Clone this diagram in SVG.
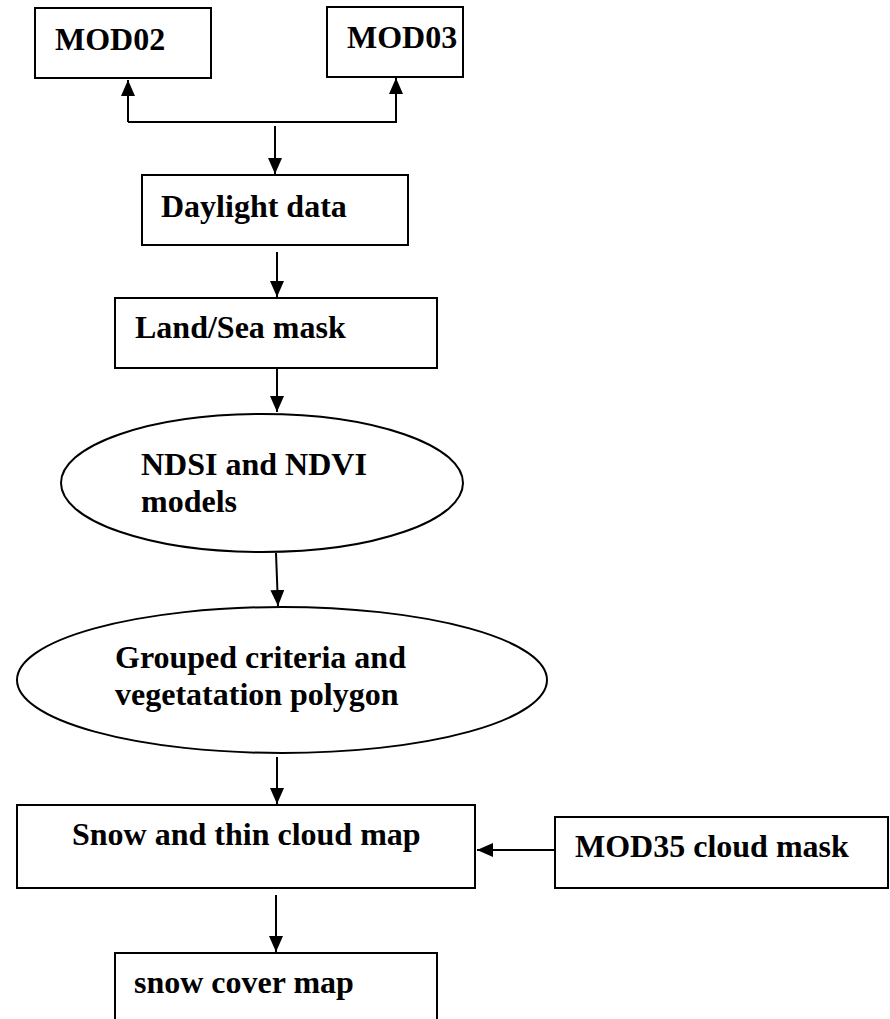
<svg xmlns="http://www.w3.org/2000/svg" width="890" height="1019" viewBox="0 0 890 1019">
<style>
.box{fill:#fff;stroke:#000;stroke-width:2}
.t{font-family:"Liberation Serif","Times New Roman",serif;font-weight:bold;font-size:32px;fill:#000}
.c{fill:none;stroke:#000;stroke-width:2}
</style>
<defs>
<marker id="ah" viewBox="0 0 16 14" refX="16" refY="7" markerWidth="16" markerHeight="14" markerUnits="userSpaceOnUse" orient="auto">
<path d="M0,0 L16,7 L0,14 Z" fill="#000"/>
</marker>
</defs>
<rect width="890" height="1019" fill="#fff"/>
<g id="connectors">
<path class="c" d="M128,122 V80" marker-end="url(#ah)"/>
<path class="c" d="M128,122 H396 V78" marker-end="url(#ah)"/>
<path class="c" d="M275,126 V174" marker-end="url(#ah)"/>
<path class="c" d="M277,252 V297" marker-end="url(#ah)"/>
<path class="c" d="M277,369 V412" marker-end="url(#ah)"/>
<path class="c" d="M276,553 L278,606" marker-end="url(#ah)"/>
<path class="c" d="M277,757 V804" marker-end="url(#ah)"/>
<path class="c" d="M555,850 H477" marker-end="url(#ah)"/>
<path class="c" d="M276,895 V952" marker-end="url(#ah)"/>
</g>
<g id="mod02">
<rect class="box" x="35" y="8" width="176" height="70"/>
<text class="t" x="55" y="50">MOD02</text>
</g>
<g id="mod03">
<rect class="box" x="327" y="7" width="136" height="70"/>
<text class="t" x="347" y="48">MOD03</text>
</g>
<g id="daylight">
<rect class="box" x="142" y="175" width="266" height="70"/>
<text class="t" x="161" y="217">Daylight data</text>
</g>
<g id="landsea">
<rect class="box" x="115" y="298" width="322" height="70"/>
<text class="t" x="135" y="338">Land/Sea mask</text>
</g>
<g id="ndsi">
<ellipse class="box" cx="262" cy="483" rx="201" ry="69"/>
<text class="t" x="141" y="475">NDSI and NDVI</text>
<text class="t" x="141" y="512">models</text>
</g>
<g id="grouped">
<ellipse class="box" cx="282" cy="680" rx="265" ry="73"/>
<text class="t" x="115" y="668">Grouped criteria and</text>
<text class="t" x="115" y="705">vegetatation polygon</text>
</g>
<g id="snowthin">
<rect class="box" x="17" y="805" width="458" height="83"/>
<text class="t" x="72" y="845">Snow and thin cloud map</text>
</g>
<g id="mod35">
<rect class="box" x="555" y="817" width="333" height="71"/>
<text class="t" x="575" y="857">MOD35 cloud mask</text>
</g>
<g id="snowcover">
<path class="box" d="M115,1019 V953 H437 V1019"/>
<text class="t" x="134" y="993">snow cover map</text>
</g>
</svg>
